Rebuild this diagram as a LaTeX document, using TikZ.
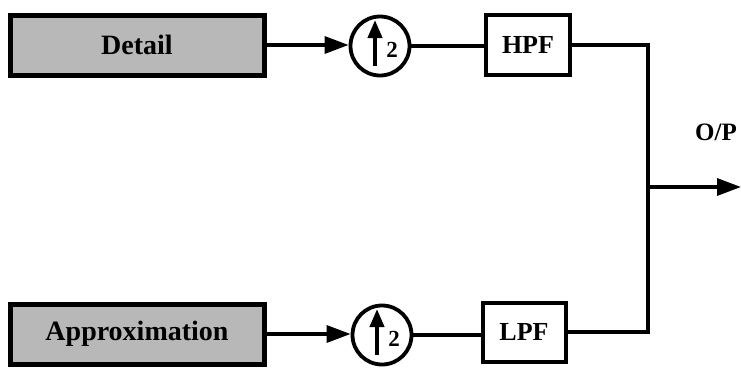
\documentclass[tikz,border=0pt]{standalone}
\usepackage{fontspec}
\setmainfont{Liberation Serif}
\usetikzlibrary{arrows.meta,calc}
\begin{document}
\begin{tikzpicture}[x=1pt,y=-1pt,
  graybox/.style={draw,line width=5pt,fill=black!28,minimum width=254pt,minimum height=60pt,inner sep=0pt,
    font=\fontsize{28}{32}\selectfont\bfseries},
  filt/.style={draw,line width=4pt,fill=white,inner sep=0pt,font=\fontsize{26}{30}\selectfont\bfseries},
  upc/.style={draw,circle,line width=3.8pt,minimum size=59pt,inner sep=0pt},
  wire/.style={line width=3.3pt},
  tip/.style={-{Triangle[length=24pt,width=17pt]}},
  uparr/.style={line width=4pt,-{Triangle[length=18pt,width=14pt]}},
  two/.style={font=\fontsize{23}{26}\selectfont\bfseries,inner sep=0pt}
]
\useasboundingbox (0,0) rectangle (741,370);
\node[graybox] (detail) at (137,45) {Detail};
\node[graybox] (approx) at (137,334) {Approximation};
\node[upc] (up1) at (380,46) {};
\node[upc] (up2) at (382,335) {};
\node[filt,minimum width=84pt,minimum height=60pt] (hpf) at (528,45) {HPF};
\node[filt,minimum width=83pt,minimum height=59pt] (lpf) at (524,332) {LPF};
\coordinate (jx) at (648,187);
\coordinate (out) at (741,187);
\node[font=\fontsize{25}{29}\selectfont\bfseries] (op) at (716,132) {O/P};
% up-sampling symbols
\draw[uparr] ([shift={(-5,20)}]up1.center) -- ([shift={(-5,-26)}]up1.center);
\node[two] (t1) at ([shift={(12,4)}]up1.center) {2};
\draw[uparr] ([shift={(-5,20)}]up2.center) -- ([shift={(-5,-26)}]up2.center);
\node[two] (t2) at ([shift={(12,4)}]up2.center) {2};
% connectors
\draw[wire,tip] (detail.east) -- (detail.east -| up1.west);
\draw[wire,tip] (approx.east) -- (approx.east -| up2.west);
\draw[wire] (up1.east) -- (up1.east -| hpf.west);
\draw[wire] (up2.east) -- (up2.east -| lpf.west);
\draw[wire] (hpf.east) -| (jx) |- (lpf.east);
\draw[wire,tip] (jx) -- (out);
\end{tikzpicture}
\end{document}
